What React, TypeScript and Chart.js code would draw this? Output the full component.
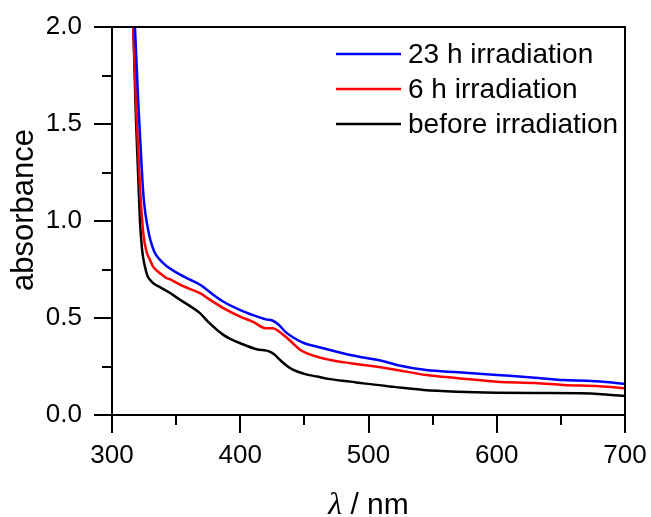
import React, { useEffect, useRef } from 'react';
import { Chart, registerables } from 'chart.js';

Chart.register(...registerables);

// ---- data ----
const seriesLabels = ['23 h irradiation', '6 h irradiation', 'before irradiation'];
const seriesColors = ['#0000ff', '#ff0000', '#000000'];

const blueWl = [314, 317.9, 320.5, 322, 323.2, 324.4, 326, 328, 330, 333, 336, 340, 343, 350, 360, 369, 375, 380, 387, 400, 410, 420, 425, 430, 435, 441, 450, 460, 470, 486, 496, 510, 522, 545, 570, 600, 625, 652, 670, 690, 700];
const blueAbs = [2.6, 2.0, 1.61, 1.42, 1.27, 1.14, 1.04, 0.96, 0.9, 0.842, 0.81, 0.783, 0.765, 0.735, 0.70, 0.67, 0.64, 0.615, 0.584, 0.541, 0.515, 0.493, 0.487, 0.465, 0.43, 0.401, 0.37, 0.352, 0.335, 0.309, 0.296, 0.28, 0.258, 0.232, 0.22, 0.206, 0.195, 0.18, 0.177, 0.168, 0.16];

const redWl = [313, 316.6, 319.3, 321.8, 324.4, 327, 329.6, 332, 337.4, 342.6, 345, 355, 368.6, 375, 386.8, 400, 410, 420, 425, 433.6, 441, 446.6, 460, 470, 486, 496, 520, 545, 570, 600, 630, 652, 680, 700];
const redAbs = [2.6, 2.0, 1.52, 1.18, 0.938, 0.84, 0.80, 0.765, 0.731, 0.705, 0.70, 0.665, 0.628, 0.60, 0.551, 0.507, 0.48, 0.447, 0.447, 0.413, 0.37, 0.336, 0.30, 0.284, 0.267, 0.258, 0.235, 0.206, 0.19, 0.172, 0.165, 0.155, 0.148, 0.138];

const blackWl = [313, 316.6, 318.7, 321.8, 323.5, 325.5, 327.5, 329.6, 333, 337.4, 345, 353, 360, 368.6, 375, 386.8, 393, 400, 412.8, 423, 427, 431, 436, 441.4, 450, 460, 470, 486, 496, 520, 543, 570, 600, 630, 665, 685, 700];
const blackAbs = [2.6, 2.0, 1.52, 1.0, 0.85, 0.77, 0.72, 0.697, 0.675, 0.659, 0.63, 0.594, 0.565, 0.525, 0.48, 0.413, 0.39, 0.37, 0.339, 0.327, 0.31, 0.284, 0.255, 0.232, 0.212, 0.198, 0.185, 0.172, 0.163, 0.145, 0.129, 0.12, 0.115, 0.113, 0.112, 0.106, 0.098];

const xMajorTicks = [300, 400, 500, 600, 700];
const xMinorTicks = [350, 450, 550, 650];
const yMajorTicks = [0, 0.5, 1.0, 1.5, 2.0];
const yMinorTicks = [0.25, 0.75, 1.25, 1.75];

const xTitleSymbol = 'λ';
const xTitleRest = ' / nm';
const yTitle = 'absorbance';

const SANS = "'Liberation Sans', Arial, sans-serif";
const SERIF = "'Liberation Serif', 'Times New Roman', serif";

const decorPlugin = {
  id: 'decor',
  afterDatasetsDraw(chart: any) {
    const { ctx, chartArea: a, scales } = chart;
    const xs = scales.x;
    const ys = scales.y;
    ctx.save();
    ctx.strokeStyle = '#000';
    ctx.lineWidth = 2;
    ctx.strokeRect(a.left, a.top, a.right - a.left, a.bottom - a.top);
    ctx.beginPath();
    const tick = (v: number, len: number, horiz: boolean) => {
      if (horiz) {
        const p = Math.round(xs.getPixelForValue(v));
        ctx.moveTo(p, a.bottom);
        ctx.lineTo(p, a.bottom + len);
      } else {
        const p = Math.round(ys.getPixelForValue(v));
        ctx.moveTo(a.left, p);
        ctx.lineTo(a.left - len, p);
      }
    };
    xMajorTicks.forEach((v) => tick(v, 18, true));
    xMinorTicks.forEach((v) => tick(v, 10, true));
    yMajorTicks.forEach((v) => tick(v, 18, false));
    yMinorTicks.forEach((v) => tick(v, 10, false));
    ctx.stroke();

    // legend
    const lx0 = a.right - 289;
    const lx1 = lx0 + 65;
    chart.data.datasets.forEach((ds: any, i: number) => {
      const y = a.top + 27 + i * 35;
      ctx.beginPath();
      ctx.strokeStyle = ds.borderColor;
      ctx.lineWidth = 2.5;
      ctx.moveTo(lx0, y);
      ctx.lineTo(lx1, y);
      ctx.stroke();
      ctx.fillStyle = '#000';
      ctx.font = `28px ${SANS}`;
      ctx.textAlign = 'left';
      ctx.textBaseline = 'middle';
      ctx.fillText(ds.label, lx1 + 7, y + 1);
    });

    // x title
    const cx = (a.left + a.right) / 2;
    ctx.fillStyle = '#000';
    ctx.textBaseline = 'alphabetic';
    ctx.font = `italic 32px ${SERIF}`;
    const w1 = ctx.measureText(xTitleSymbol).width;
    ctx.font = `30px ${SANS}`;
    const w2 = ctx.measureText(xTitleRest).width;
    const sx = cx - (w1 + w2) / 2;
    ctx.font = `italic 32px ${SERIF}`;
    ctx.textAlign = 'left';
    ctx.fillText(xTitleSymbol, sx, 514);
    ctx.font = `30px ${SANS}`;
    ctx.fillText(xTitleRest, sx + w1, 514);

    // y title
    ctx.translate(33, 210);
    ctx.rotate(-Math.PI / 2);
    ctx.font = `31px ${SANS}`;
    ctx.textAlign = 'center';
    ctx.textBaseline = 'alphabetic';
    ctx.fillText(yTitle, 0, 0);
    ctx.restore();
  },
};

export default function App() {
  const ref = useRef<HTMLCanvasElement | null>(null);
  useEffect(() => {
    if (!ref.current) return;
    const mk = (wl: number[], ab: number[]) => wl.map((x, i) => ({ x, y: ab[i] }));
    const chart = new Chart(ref.current, {
      type: 'line',
      data: {
        datasets: [
          { label: seriesLabels[0], data: mk(blueWl, blueAbs), borderColor: seriesColors[0] },
          { label: seriesLabels[1], data: mk(redWl, redAbs), borderColor: seriesColors[1] },
          { label: seriesLabels[2], data: mk(blackWl, blackAbs), borderColor: seriesColors[2] },
        ].map((d) => ({ ...d, borderWidth: 2.5, pointRadius: 0, fill: false, cubicInterpolationMode: 'monotone' as const, clip: 0 })),
      },
      options: {
        animation: false,
        responsive: true,
        maintainAspectRatio: false,
        layout: { padding: { top: 27, right: 26, left: 0, bottom: 0 } },
        plugins: { legend: { display: false }, tooltip: { enabled: false } },
        scales: {
          x: {
            type: 'linear',
            min: 300,
            max: 700,
            afterFit: (s: any) => { s.height = 102; s.paddingLeft = 0; s.paddingRight = 0; },
            afterBuildTicks: (s: any) => { s.ticks = xMajorTicks.map((v) => ({ value: v })); },
            grid: { display: false, drawTicks: false },
            border: { display: false },
            ticks: { color: '#000', font: { family: SANS, size: 26 }, padding: 25, maxRotation: 0 },
          },
          y: {
            type: 'linear',
            min: 0,
            max: 2,
            afterFit: (s: any) => { s.width = 112; s.paddingTop = 0; s.paddingBottom = 0; },
            afterBuildTicks: (s: any) => { s.ticks = yMajorTicks.map((v) => ({ value: v })); },
            grid: { display: false, drawTicks: false },
            border: { display: false },
            ticks: { color: '#000', font: { family: SANS, size: 26 }, padding: 30, callback: (v: any) => Number(v).toFixed(1) },
          },
        },
      },
      plugins: [decorPlugin],
    });
    return () => chart.destroy();
  }, []);
  return (
    <div style={{ position: 'fixed', left: 0, top: 0, width: 651, height: 517, background: '#fff' }}>
      <canvas ref={ref} />
    </div>
  );
}
